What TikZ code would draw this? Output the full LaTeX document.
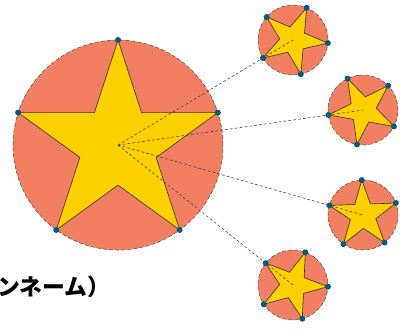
\documentclass[tikz,border=0pt]{standalone}
\usepackage{fontspec}
\newfontfamily\jpfont{Noto Sans CJK JP}
\definecolor{flagred}{RGB}{242,127,98}
\definecolor{staryellow}{RGB}{255,208,0}
\definecolor{dotblue}{RGB}{0,92,122}
\tikzset{
	disc/.style={fill=flagred, draw=black!70, densely dashed, line width=0.4pt},
	starfill/.style={fill=staryellow, draw=black!80, line width=0.5pt, line join=miter, solid},
	guide/.style={draw=black!75, line width=0.45pt, dash pattern=on 2pt off 2pt},
	vertex/.style={fill=dotblue},
}
\begin{document}
\begin{tikzpicture}[line cap=round]
				\useasboundingbox (-3.371, 4.143) rectangle (8.057, -5.257);
				\coordinate (O) at (0,0);
				\coordinate (S1) at (5,3);
				\coordinate (S2) at (7,1);
				\coordinate (S3) at (7,-2);
				\coordinate (S4) at (5,-4);
				\pgfmathsetmacro{\ri}{sin(18)/sin(54)}
				
				% big star
				\draw[disc] (O) circle (3);
				\filldraw[starfill] (90:3) \foreach \k in {1,...,9} { -- ({90+36*\k}:{ifthenelse(mod(\k,2)==0,3,3*\ri)}) } -- cycle;
				
				% small stars, one point towards O
				\foreach \s/\r in {S1/210.96, S2/188.13, S3/164.05, S4/141.34} {
					\begin{scope}[shift={(\s)}, rotate=\r-90]
						\draw[disc] (0,0) circle (1);
						\filldraw[starfill] (90:1) \foreach \k in {1,...,9} { -- ({90+36*\k}:{ifthenelse(mod(\k,2)==0,1,\ri)}) } -- cycle;
					\end{scope}
				}
				
				\foreach \s in {S1, S2, S3, S4}
					\draw[guide] (O) -- (\s);
				
				\foreach \k in {0,...,4}
					\fill[vertex] ({90+72*\k}:3) circle (0.085);
				\foreach \s/\r in {S1/210.96, S2/188.13, S3/164.05, S4/141.34} {
					\begin{scope}[shift={(\s)}, rotate=\r-90]
						\foreach \k in {0,...,4}
							\fill[vertex] ({90+72*\k}:1) circle (0.085);
					\end{scope}
				}
				
				\node[anchor=base west, inner sep=0pt, font=\jpfont\bfseries\fontsize{18.5}{18.5}\selectfont] (pen) at (-3.457, -4.3) {ンネーム）};
\end{tikzpicture}
\end{document}
